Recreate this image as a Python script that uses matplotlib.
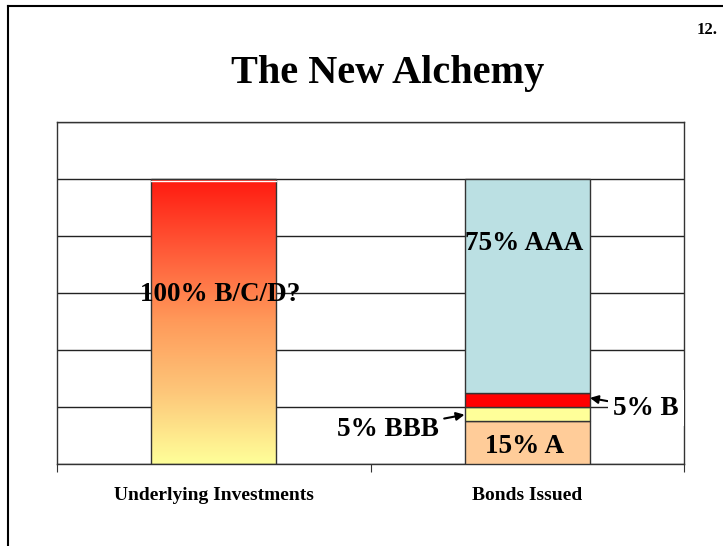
import numpy as np
import matplotlib.pyplot as plt
from matplotlib.colors import LinearSegmentedColormap
from matplotlib.lines import Line2D

plt.rcParams['font.family'] = ['Liberation Serif', 'DejaVu Serif']

categories = ["Underlying Investments", "Bonds Issued"]
underlying = 100
bond_labels = ["15% A", "5% BBB", "5% B", "75% AAA"]
bond_values = [15, 5, 5, 75]
bond_colors = ["#FFCC99", "#FFFF99", "#FF0000", "#BBE0E3"]

fig = plt.figure(figsize=(7.23, 5.46), dpi=100)
ax = fig.add_axes([57 / 723, 82 / 546, 627 / 723, 342 / 546])

x = np.arange(len(categories))
width = 0.4

# gradient bar for the underlying investments
cmap = LinearSegmentedColormap.from_list(
    "alch", ["#FFFF99", "#FDC77A", "#FF9A5A", "#FF5A38", "#FF1A10"])
grad = np.linspace(0, 1, 256).reshape(-1, 1)
ax.imshow(grad, cmap=cmap, origin="lower", aspect="auto",
          extent=(x[0] - width / 2, x[0] + width / 2, 0, underlying), zorder=2)
ax.bar(x[0], underlying, width, facecolor="none", edgecolor="#333333",
       linewidth=1, zorder=3)
ax.plot([x[0] - width / 2, x[0] + width / 2], [underlying - 0.8] * 2,
        color="white", lw=1, zorder=4)

# stacked bond tranches
bottom = 0
for val, col in zip(bond_values, bond_colors):
    ax.bar(x[1], val, width, bottom=bottom, color=col, edgecolor="#333333",
           linewidth=1, zorder=3)
    bottom += val

ax.set_xlim(-0.5, 1.5)
ax.set_ylim(0, 120)
ax.set_yticks(np.arange(0, 121, 20))
ax.set_yticklabels([])
ax.tick_params(axis="y", length=0)
ax.grid(axis="y", color="#222222", linewidth=1, zorder=0)
ax.set_xticks([-0.5, 0.5, 1.5], minor=False)
ax.set_xticklabels([])
ax.tick_params(axis="x", length=6, color="#333333")
for s in ax.spines.values():
    s.set_color("#333333")
    s.set_linewidth(1)

for i, c in enumerate(categories):
    ax.text(x[i], -11.2, c, ha="center", va="center", fontsize=14,
            fontweight="bold")

big = dict(fontsize=19.5, fontweight="bold", zorder=6)
ax.text(x[0] + 0.02, 59.5, "100% B/C/D?", ha="center", va="center", **big)
ax.text(x[1] - 0.01, 77.3, bond_labels[3], ha="center", va="center", **big)
ax.text(x[1] - 0.01, 6.2, bond_labels[0], ha="center", va="center", **big)
ax.annotate(bond_labels[1], xy=(x[1] - width / 2, 17.3), xytext=(0.555, 12.2),
            ha="center", va="center", **big,
            arrowprops=dict(arrowstyle="-|>", color="black", lw=1.5,
                            mutation_scale=12, shrinkA=2, shrinkB=0))
ax.annotate(bond_labels[2], xy=(x[1] + width / 2, 23.2), xytext=(1.378, 19.6),
            ha="center", va="center", annotation_clip=False, **big,
            bbox=dict(boxstyle="square,pad=0.2", fc="white", ec="none"),
            arrowprops=dict(arrowstyle="-|>", color="black", lw=1.5,
                            mutation_scale=12, shrinkA=0, shrinkB=0))

fig.text(388 / 723, 1 - 73 / 546, "The New Alchemy", ha="center",
         va="center", fontsize=29, fontweight="bold")
fig.text(707 / 723, 1 - 30 / 546, "12.", ha="center", va="center",
         fontsize=12, fontweight="bold")

fig.add_artist(Line2D([8 / 723, 8 / 723], [0, 1 - 6 / 546],
                      transform=fig.transFigure, color="black", lw=1.5))
fig.add_artist(Line2D([8 / 723, 1], [1 - 6 / 546, 1 - 6 / 546],
                      transform=fig.transFigure, color="black", lw=1.5))

fig.savefig("out.png", dpi=100)
